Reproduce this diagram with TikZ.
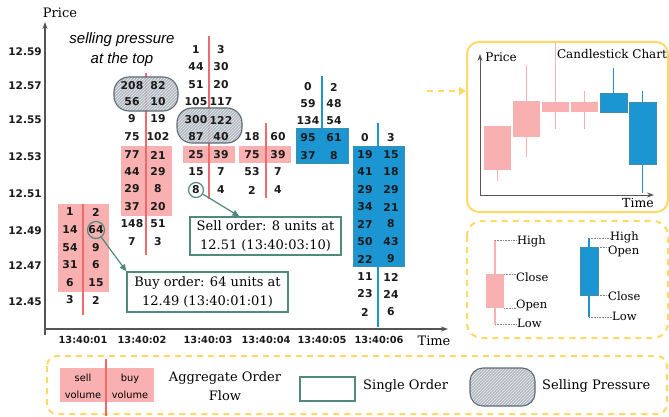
\documentclass[tikz,border=0pt]{standalone}
\usepackage{fontspec}
\setmainfont{DejaVu Serif}
\newfontfamily\numfont{DejaVu Sans}
\newfontfamily\itsans{Liberation Sans}
\usetikzlibrary{arrows.meta,patterns,calc}
\definecolor{pinkf}{HTML}{F8B0B0}
\definecolor{redln}{HTML}{EF6A6A}
\definecolor{bluef}{HTML}{1C95D3}
\definecolor{bluebd}{HTML}{3F8FA6}
\definecolor{tealc}{HTML}{4F8A7C}
\definecolor{goldc}{HTML}{FFD966}
\definecolor{axisc}{HTML}{555555}
\definecolor{hatchbg}{HTML}{A4ADB7}
\definecolor{hatchln}{HTML}{E8ECF0}
\definecolor{hatchbd}{HTML}{5F6A75}
\definecolor{numc}{HTML}{1A1A1A}
\tikzset{
  num/.style={font=\numfont\bfseries\fontsize{10.8}{12}\selectfont, text=numc, inner sep=0pt},
  ticklbl/.style={font=\numfont\bfseries\fontsize{9.8}{12}\selectfont, text=numc, inner sep=0pt},
  serif/.style={font=\fontsize{13}{17}\selectfont, inner sep=1pt},
  small/.style={font=\fontsize{11.5}{14}\selectfont, inner sep=1pt},
  axisline/.style={axisc, line width=1.2pt, -{Stealth[length=7pt,width=5pt]}},
  callout/.style={draw=tealc, line width=1.2pt, fill=white, align=center, inner sep=0pt, font=\fontsize{13}{19}\selectfont},
  calloutarrow/.style={tealc, line width=1.2pt, -{Triangle[length=7pt,width=6pt]}},
  ring/.style={circle, draw=tealc, line width=1.2pt, inner sep=0pt},
  goldframe/.style={goldc, line width=2pt},
  golddash/.style={goldc, line width=2pt, dash pattern=on 6pt off 5pt},
  leader/.style={gray, densely dotted, line width=0.6pt},
}
\newcommand\colnums[4]{%
  \foreach \yy/\ll/\rr [count=\k] in {#4} {
    \node[num] (#1l\k) at (#2,\yy) {\ll};
    \node[num] (#1r\k) at (#3,\yy) {\rr};
  }}
\newcommand\hatchblob[5]{%
  \path[fill=hatchbg, fill opacity=0.85, rounded corners=#5] (#1,#2) rectangle (#3,#4);
  \path[pattern=north east lines, pattern color=hatchln, rounded corners=#5] (#1,#2) rectangle (#3,#4);
  \draw[hatchbd, line width=1.1pt, rounded corners=#5] (#1,#2) rectangle (#3,#4);}
\begin{document}
\begin{tikzpicture}[x=1pt,y=-1pt]
\useasboundingbox (0,0) rectangle (669,417);

% axes
\coordinate (yb) at (45,335);
\coordinate (yt) at (45,22);
\coordinate (xl) at (45,329);
\coordinate (xr) at (448,329);
\draw[axisline] (yb) -- (yt);
\draw[axisline] (xl) -- (xr);
\node[serif] (pricelbl) at (60,13) {Price};
\node[serif] (timelbl) at (434,341) {Time};

% price labels
\foreach \p/\yy in {12.59/51.7,12.57/86,12.55/120,12.53/157,12.51/194,12.49/230.5,12.47/266,12.45/301.5}
  \node[ticklbl, font=\numfont\bfseries\fontsize{10.5}{12}\selectfont] (p\p) at (25,\yy) {\p};
% time labels
\foreach \t/\xx [count=\i] in {13:40:01/83,13:40:02/142,13:40:03/208,13:40:04/266,13:40:05/322,13:40:06/379}
  \node[ticklbl] (t\i) at (\xx,339.5) {\t};

% boxes
\fill[pinkf] (58,204) rectangle (109,292);
\fill[pinkf] (121,146) rectangle (172,216);
\fill[pinkf] (183,146) rectangle (235,163);
\fill[pinkf] (239,146) rectangle (291,163);
\filldraw[fill=bluef, draw=bluebd, line width=0.8pt] (296,128) rectangle (348,163.5);
\filldraw[fill=bluef, draw=bluebd, line width=0.8pt] (353,146) rectangle (404,266);

% vertical lines
\draw[redln, line width=1.3pt] (83,204) -- (83,315);
\draw[redln, line width=1.3pt] (146,73) -- (146,255);
\draw[redln, line width=1.3pt] (209,36) -- (209,199);
\draw[redln, line width=1.3pt] (266,123) -- (266,198);
\draw[bluef, line width=1.3pt] (322,76) -- (322,163.5);
\draw[bluef, line width=1.3pt] (378,123) -- (378,327);

% selling pressure blobs
\hatchblob{114}{77}{178}{111}{15pt}
\hatchblob{177}{108}{242}{143}{15pt}

% numbers
\colnums{c1}{70}{96}{212/1/2, 230/14/64, 248/54/9, 265/31/6, 283/6/15, 300/3/2}
\colnums{c2}{132}{158}{86/208/82, 102/56/10, 119/9/19, 137/75/102, 155/77/21, 172/44/29, 189/29/8, 207/37/20, 224/148/51, 242/7/3}
\colnums{c3}{196}{221}{50/1/3, 67/44/30, 85/51/20, 102/105/117, 120/300/122, 137/87/40, 155/25/39, 172/15/7, 190/8/4}
\colnums{c4}{252}{278}{137/18/60, 155/75/39, 172/53/7, 190/2/4}
\colnums{c5}{308}{334}{87/0/2, 104/59/48, 121/134/54, 138/95/61, 156/37/8}
\colnums{c6}{365}{391}{138/0/3, 155/19/15, 172/41/18, 190/29/29, 207/34/21, 224/27/8, 242/50/43, 259/22/9, 277/11/12, 294/23/24, 312/2/6}

\node[font=\itsans\itshape\fontsize{15}{20}\selectfont, align=center, inner sep=0pt] (sptext) at (122,50) {selling pressure\\at the top};

% single orders
\node[ring, minimum size=17pt] (circ64) at (c1r2) {};
\node[ring, minimum size=15pt] (circ8) at (c3l9) {};
\node[callout, minimum width=151pt, minimum height=38pt] (sellbox) at (265.5,236) {Sell order: 8 units at\\12.51 (13:40:03:10)};
\node[callout, minimum width=161pt, minimum height=40pt] (buybox) at (207.5,292) {Buy order: 64 units at\\12.49 (13:40:01:01)};
\draw[calloutarrow] (circ8) -- ([xshift=50pt]sellbox.north west);
\draw[calloutarrow] (circ64) -- (buybox.north west);

% candlestick chart panel
\draw[goldframe, rounded corners=12pt] (467,42) rectangle (668,212);
\coordinate (da) at (427,91);
\coordinate (db) at (466,91);
\draw[golddash, -{Triangle[length=7pt,width=8pt]}] (da) -- (db);
\draw[axisline, line width=1pt] (480,195) -- (480,54);
\draw[axisline, line width=1pt] (480,195) -- (654,195);
\node[small, font=\fontsize{12}{14}\selectfont] (cprice) at (501,57) {Price};
\node[small, font=\fontsize{12}{14}\selectfont] (ctitle) at (612,54) {Candlestick Chart};
\node[small, font=\fontsize{12.5}{14}\selectfont] (ctime) at (638,203) {Time};
% candles
\draw[pinkf, line width=1.5pt] (497.5,170) -- (497.5,181);
\fill[pinkf] (484,126) rectangle (511,170);
\draw[pinkf, line width=1.5pt] (526.5,65) -- (526.5,157);
\fill[pinkf] (513,101) rectangle (540,137);
\draw[pinkf, line width=1.5pt] (555.5,43) -- (555.5,129);
\fill[pinkf] (542,102) rectangle (569,112);
\draw[pinkf, line width=1.5pt] (584.5,91) -- (584.5,129);
\fill[pinkf] (571,102) rectangle (598,112);
\draw[bluef, line width=1.5pt] (613.5,68) -- (613.5,93);
\filldraw[fill=bluef, draw=bluebd, line width=0.8pt] (600,93) rectangle (627,112);
\draw[bluef, line width=1.5pt] (642.5,91) -- (642.5,193);
\filldraw[fill=bluef, draw=bluebd, line width=0.8pt] (629,102) rectangle (656,164);

% candle legend panel
\draw[golddash, rounded corners=15pt] (467,221) rectangle (668,338);
\draw[pinkf, line width=1.5pt] (495,240) -- (495,324);
\fill[pinkf] (486,274) rectangle (504,308);
\draw[leader] (495,240) -- (517,240);
\draw[leader] (504,274) -- (516,274);
\draw[leader] (504,308) -- (516,308);
\draw[leader] (495,324) -- (517,324);
\node[small, anchor=west] (phigh) at (516,241) {High};
\node[small, anchor=west] (pclose) at (515,277) {Close};
\node[small, anchor=west] (popen) at (515,305) {Open};
\node[small, anchor=west] (plow) at (516,323) {Low};
\draw[bluef, line width=1.5pt] (589,238) -- (589,317);
\filldraw[fill=bluef, draw=bluebd, line width=0.8pt] (580,247) rectangle (598,295);
\draw[leader] (589,238) -- (610,238);
\draw[leader] (598,247) -- (609,247);
\draw[leader] (598,295) -- (609,295);
\draw[leader] (589,317) -- (612,317);
\node[small, anchor=west] (bhigh) at (609,237) {High};
\node[small, anchor=west] (bopen) at (607,251) {Open};
\node[small, anchor=west] (bclose) at (607,296) {Close};
\node[small, anchor=west] (blow) at (611,316) {Low};

% bottom legend
\draw[golddash, rounded corners=10pt] (47,356) rectangle (667,414);
\fill[pinkf] (60,368) rectangle (154,402);
\draw[redln, line width=1.2pt] (106,359) -- (106,416);
\node[font=\numfont\fontsize{9.8}{17}\selectfont, align=center, inner sep=0pt] (lsell) at (83,386) {sell\\volume};
\node[font=\numfont\fontsize{9.8}{17}\selectfont, align=center, inner sep=0pt] (lbuy) at (130,386) {buy\\volume};
\node[serif, align=center, font=\fontsize{13}{19}\selectfont] (lagg) at (225,386) {Aggregate Order\\Flow};
\node[draw=tealc, line width=1.2pt, minimum width=55pt, minimum height=24pt, inner sep=0pt] (lsingle) at (327.5,389) {};
\node[serif, anchor=west] (lsingletxt) at (362,386) {Single Order};
\hatchblob{470}{368}{535}{406}{13pt}
\node[serif, anchor=west] (lsptxt) at (541,386) {Selling Pressure};
\end{tikzpicture}
\end{document}
